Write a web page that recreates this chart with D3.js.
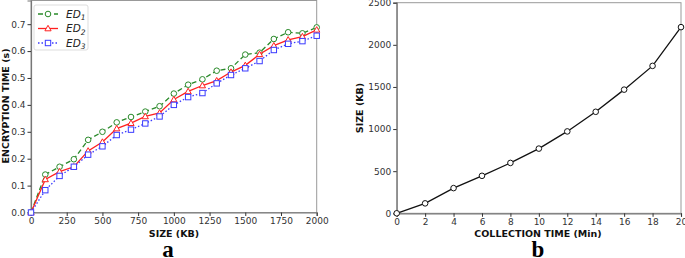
<!DOCTYPE html>
<html>
<head>
<meta charset="UTF-8">
<script src="https://cdn.jsdelivr.net/npm/d3@7"></script>
<style>
  body { margin: 0; background: #fff; }
  text { font-family: "DejaVu Sans", sans-serif; }
</style>
</head>
<body>
<svg id="canvas" width="685" height="258"></svg>
<script>
// panel a data
sizes = d3.range(0, 2001, 100);
ed1 = [0, 0.141, 0.170, 0.198, 0.270, 0.300, 0.335, 0.355, 0.375, 0.395, 0.442, 0.475, 0.495, 0.527, 0.536, 0.587, 0.594, 0.645, 0.670, 0.666, 0.688];
ed2 = [0, 0.123, 0.152, 0.170, 0.229, 0.262, 0.312, 0.332, 0.357, 0.370, 0.420, 0.450, 0.472, 0.490, 0.522, 0.547, 0.588, 0.620, 0.642, 0.654, 0.679];
ed3 = [0, 0.083, 0.136, 0.170, 0.215, 0.246, 0.288, 0.308, 0.331, 0.357, 0.400, 0.429, 0.444, 0.480, 0.511, 0.536, 0.563, 0.604, 0.627, 0.637, 0.657];
xTicksA = [0, 250, 500, 750, 1000, 1250, 1500, 1750, 2000];
yTicksA = [0, 0.1, 0.2, 0.3, 0.4, 0.5, 0.6, 0.7];

// panel b data
minutes = [0, 2, 4, 6, 8, 10, 12, 14, 16, 18, 20];
collected = [0, 118, 299, 445, 598, 768, 972, 1205, 1468, 1750, 2210];
xTicksB = [0, 2, 4, 6, 8, 10, 12, 14, 16, 18, 20];
yTicksB = [0, 500, 1000, 1500, 2000, 2500];

svg = d3.select("#canvas");
spine = "#777";
tickCol = "#333";

function frame(g, x, y, xt, yt, xfmt, yfmt) {
  let [x0, x1] = x.range(), [y0, y1] = y.range();
  g.append("rect").attr("x", x0).attr("y", y1).attr("width", x1 - x0).attr("height", y0 - y1)
    .attr("fill", "none").attr("stroke", "#999").attr("stroke-width", 1);
  let xa = g.append("g").attr("transform", "translate(0," + y0 + ")")
    .call(d3.axisBottom(x).tickValues(xt).tickFormat(xfmt).tickSize(3.5).tickPadding(2));
  let ya = g.append("g").attr("transform", "translate(" + x0 + ",0)")
    .call(d3.axisLeft(y).tickValues(yt).tickFormat(yfmt).tickSize(3.5).tickPadding(2));
  [xa, ya].forEach(a => {
    a.select(".domain").attr("stroke", spine).attr("stroke-width", 1.2);
    a.selectAll(".tick line").attr("stroke", tickCol);
    a.selectAll(".tick text").attr("fill", tickCol).style("font-size", "9px")
      .style("font-family", "DejaVu Sans, sans-serif");
  });
}

// ---- panel a ----
xa = d3.scaleLinear().domain([0, 2000]).range([31, 316.7]);
ya = d3.scaleLinear().domain([0, 0.788]).range([212.5, 0.5]);
ga = svg.append("g");
frame(ga, xa, ya, xTicksA, yTicksA, d3.format("d"), d3.format(".1f"));

seriesA = [
  {name: "1", vals: ed1, color: "#2a8a2a", dash: "5,3", marker: "circle"},
  {name: "2", vals: ed2, color: "#ff2020", dash: null, marker: "triangle"},
  {name: "3", vals: ed3, color: "#3b3bff", dash: "1.5,2", marker: "square"}
];

function drawMarker(g, type, cx, cy, color) {
  if (type == "circle") {
    g.append("circle").attr("cx", cx).attr("cy", cy).attr("r", 2.8)
      .attr("fill", "#fff").attr("stroke", color).attr("stroke-width", 1);
  } else if (type == "square") {
    g.append("rect").attr("x", cx - 2.7).attr("y", cy - 2.7).attr("width", 5.4).attr("height", 5.4)
      .attr("fill", "#fff").attr("stroke", color).attr("stroke-width", 1);
  } else {
    g.append("path").attr("d", "M" + cx + "," + (cy - 3.2) + "L" + (cx + 3.1) + "," + (cy + 2.3) + "L" + (cx - 3.1) + "," + (cy + 2.3) + "Z")
      .attr("fill", "#fff").attr("stroke", color).attr("stroke-width", 1);
  }
}

line = d3.line().x((d, i) => xa(sizes[i])).y(d => ya(d));
seriesA.forEach(s => {
  ga.append("path").datum(s.vals).attr("d", line)
    .attr("fill", "none").attr("stroke", s.color).attr("stroke-width", 1.3)
    .attr("stroke-dasharray", s.dash);
  s.vals.forEach((v, i) => drawMarker(ga, s.marker, xa(sizes[i]), ya(v), s.color));
});

// legend
lg = ga.append("g");
lg.append("rect").attr("x", 34).attr("y", 5).attr("width", 54).attr("height", 45).attr("rx", 2)
  .attr("fill", "#fff").attr("stroke", "#ddd");
seriesA.forEach((s, i) => {
  let yy = 14 + i * 14.5;
  lg.append("line").attr("x1", 38).attr("x2", 58).attr("y1", yy).attr("y2", yy)
    .attr("stroke", s.color).attr("stroke-width", 1.3).attr("stroke-dasharray", s.dash);
  drawMarker(lg, s.marker, 48, yy, s.color);
  let t = lg.append("text").attr("x", 66).attr("y", yy + 3.5).style("font-size", "10.5px")
    .style("font-style", "italic").attr("fill", "#222");
  t.append("tspan").text("ED");
  t.append("tspan").attr("dy", 2.5).style("font-size", "7.5px").text(s.name);
});

ga.append("text").attr("x", 174).attr("y", 236.5).attr("text-anchor", "middle")
  .style("font-size", "9.5px").style("font-weight", "bold").attr("fill", "#111").text("SIZE (KB)");
ga.append("text").attr("transform", "translate(9,106) rotate(-90)").attr("text-anchor", "middle")
  .style("font-size", "9.5px").style("font-weight", "bold").attr("fill", "#111").text("ENCRYPTION TIME (s)");
ga.append("text").attr("x", 168).attr("y", 257).attr("text-anchor", "middle")
  .style("font-family", "Liberation Serif, serif").style("font-size", "23px").style("font-weight", "bold")
  .text("a");

// ---- panel b ----
xb = d3.scaleLinear().domain([0, 20]).range([396.7, 681]);
yb = d3.scaleLinear().domain([0, 2500]).range([213.3, 2.7]);
gb = svg.append("g");
frame(gb, xb, yb, xTicksB, yTicksB, d3.format("d"), d3.format("d"));

lineB = d3.line().x((d, i) => xb(minutes[i])).y(d => yb(d));
gb.append("path").datum(collected).attr("d", lineB)
  .attr("fill", "none").attr("stroke", "#111").attr("stroke-width", 1.3);
collected.forEach((v, i) => drawMarker(gb, "circle", xb(minutes[i]), yb(v), "#111"));

gb.append("text").attr("x", 538).attr("y", 236.5).attr("text-anchor", "middle")
  .style("font-size", "9.5px").style("font-weight", "bold").attr("fill", "#111").text("COLLECTION TIME (Min)");
gb.append("text").attr("transform", "translate(363,108) rotate(-90)").attr("text-anchor", "middle")
  .style("font-size", "9.5px").style("font-weight", "bold").attr("fill", "#111").text("SIZE (KB)");
gb.append("text").attr("x", 538).attr("y", 257).attr("text-anchor", "middle")
  .style("font-family", "Liberation Serif, serif").style("font-size", "23px").style("font-weight", "bold")
  .text("b");
</script>
</body>
</html>
